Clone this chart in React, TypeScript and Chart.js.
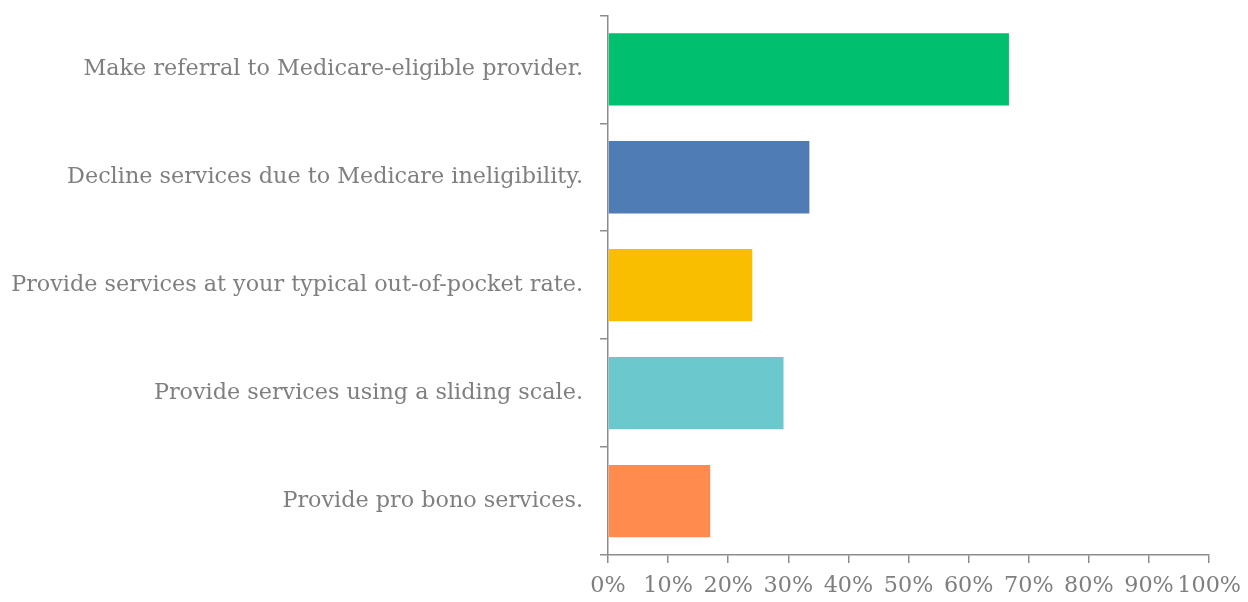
import React, { useEffect, useRef } from "react";
import { Chart, registerables } from "chart.js";

Chart.register(...registerables);

const categories = [
  "Make referral to Medicare-eligible provider.",
  "Decline services due to Medicare ineligibility.",
  "Provide services at your typical out-of-pocket rate.",
  "Provide services using a sliding scale.",
  "Provide pro bono services.",
];
const values = [66.7, 33.5, 24.0, 29.2, 17.0];
const barColors = ["#00BF6F", "#507CB6", "#F9BE00", "#6BC8CD", "#FF8B4F"];
const xTicks = [0, 10, 20, 30, 40, 50, 60, 70, 80, 90, 100];

const FONT = "'DejaVu Serif', serif";
const GRAY = "#7F7F7F";
const AXIS = "#8C8C8C";

export default function App() {
  const ref = useRef<HTMLCanvasElement | null>(null);
  useEffect(() => {
    if (!ref.current) return;
    const chart = new Chart(ref.current, {
      type: "bar",
      data: {
        labels: categories,
        datasets: [
          {
            data: values,
            backgroundColor: barColors,
            barPercentage: 0.67,
            categoryPercentage: 1,
          },
        ],
      },
      options: {
        indexAxis: "y",
        animation: false,
        responsive: false,
        maintainAspectRatio: false,
        layout: { padding: { top: 0, right: 36, left: 0, bottom: 0 } },
        plugins: { legend: { display: false }, tooltip: { enabled: false } },
        scales: {
          x: {
            min: 0,
            max: 100,
            afterBuildTicks: (s: any) => {
              s.ticks = xTicks.map((v) => ({ value: v }));
            },
            afterFit: (s: any) => {
              s.height = 47;
            },
            border: { display: true, color: AXIS, width: 1.5 },
            grid: {
              display: true,
              drawOnChartArea: false,
              drawTicks: true,
              tickLength: 8,
              color: AXIS,
              lineWidth: 1.5,
            },
            ticks: {
              color: GRAY,
              font: { family: FONT, size: 22.3 },
              padding: 10,
              maxRotation: 0,
              autoSkip: false,
              callback: (v: any) => v + "%",
            },
          },
          y: {
            afterFit: (s: any) => {
              s.width = 608;
            },
            border: { display: true, color: AXIS, width: 1.5 },
            grid: {
              display: true,
              offset: true,
              drawOnChartArea: false,
              drawTicks: true,
              tickLength: 8,
              color: AXIS,
              lineWidth: 1.5,
            },
            ticks: {
              color: GRAY,
              font: { family: FONT, size: 22.3 },
              padding: 17,
              autoSkip: false,
            },
          },
        },
      },
    });
    return () => chart.destroy();
  }, []);
  return (
    <div style={{ position: "absolute", left: 0, top: 0, width: 1248, height: 602, overflow: "hidden", background: "#fff" }}>
      <canvas
        ref={ref}
        width={1251}
        height={617}
        style={{ position: "absolute", left: 0, top: -15, width: 1251, height: 617 }}
      />
    </div>
  );
}
